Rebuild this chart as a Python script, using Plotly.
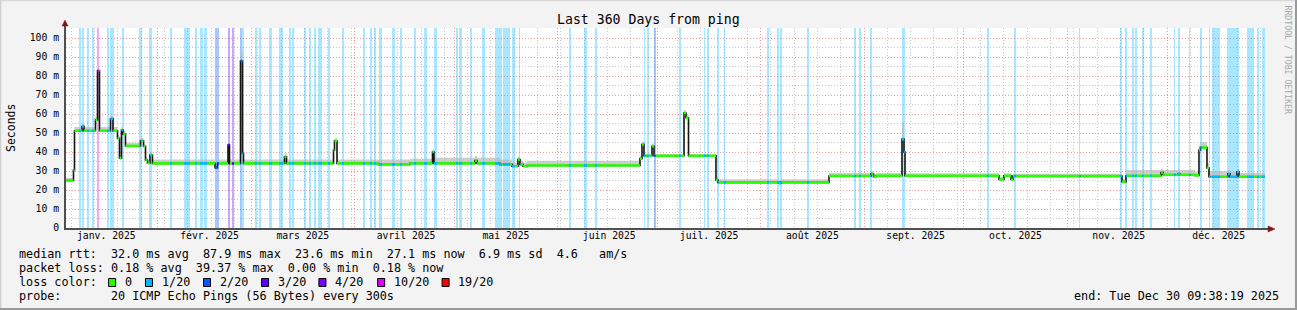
import numpy as np
import pandas as pd
import plotly.graph_objects as go

# ---------------- data ----------------
period_start = "2025-01-04 09:38:19"
period_end = "2025-12-30 09:38:19"
end_day = 363.40  # days since 2025-01-01 00:00

# median RTT step breakpoints (days since 2025-01-01 00:00) and values (ms)
median_day = [3.40, 5.65, 5.95, 8.20, 8.80, 12.26, 12.86, 13.46, 16.76, 17.51,
              18.86, 19.46, 20.06, 20.51, 21.26, 25.77, 26.67, 27.27, 27.87, 28.62,
              29.37, 48.14, 48.89, 52.04, 52.49, 55.79, 56.39, 56.69, 69.00, 69.61,
              83.72, 84.02, 84.77, 97.08, 106.69, 113.44, 113.89, 126.20, 126.80, 133.71,
              137.31, 139.11, 139.71, 140.61, 141.82, 175.74, 176.34, 176.94, 179.35, 179.95,
              188.96, 189.56, 190.31, 198.56, 199.16, 217.48, 218.08, 232.49, 245.10, 245.85,
              246.60, 254.41, 255.01, 255.31, 283.53, 285.03, 287.14, 287.74, 320.46, 321.67,
              332.18, 332.78, 337.28, 337.88, 342.38, 343.58, 344.03, 345.98, 346.58, 352.28,
              352.88, 354.98, 355.58]
median_ms = [25.0, 30.5, 51.2, 53.5, 51.2, 57.0, 82.8, 51.2, 57.5, 51.2,
             47.2, 36.8, 51.6, 49.5, 43.2, 45.9, 43.0, 35.8, 34.2, 38.4,
             34.0, 31.8, 34.0, 43.7, 34.0, 87.9, 39.4, 34.0, 37.5, 34.0,
             41.0, 45.8, 34.0, 33.5, 34.0, 40.0, 34.0, 35.5, 34.0, 33.5,
             32.5, 36.0, 33.5, 32.5, 32.9, 36.5, 44.0, 38.0, 43.0, 38.0,
             60.5, 58.0, 38.0, 25.3, 24.0, 23.6, 24.0, 27.4, 28.5, 27.0,
             27.5, 46.8, 40.0, 27.5, 25.5, 27.5, 25.5, 27.3, 24.4, 27.5,
             29.2, 28.0, 28.5, 28.0, 27.7, 41.0, 42.3, 31.6, 27.0, 28.5,
             27.0, 29.5, 27.0]
# spread of the ping "smoke" above the median (ms)
smoke_ms = [1.5, 0.5, 2.0, 1.5, 2.0, 1.5, 1.5, 2.0, 1.5, 2.0,
            1.5, 1.5, 1.5, 1.5, 1.7, 1.5, 1.5, 1.5, 1.5, 1.5,
            2.0, 2.0, 2.0, 1.5, 2.0, 5.0, 3.0, 2.0, 2.0, 2.0,
            1.5, 1.5, 2.0, 2.5, 2.5, 1.5, 3.0, 2.5, 3.0, 2.5,
            2.0, 1.5, 2.0, 2.0, 2.5, 1.5, 1.5, 1.0, 1.5, 1.0,
            1.5, 1.5, 1.0, 1.5, 1.7, 1.5, 1.7, 1.5, 1.5, 1.5,
            1.5, 9.0, 3.0, 1.3, 1.3, 1.3, 1.3, 1.3, 1.5, 3.0,
            2.0, 2.5, 2.0, 2.5, 2.0, 2.5, 3.0, 2.5, 3.0, 2.0,
            2.5, 1.5, 2.0]

# packet-loss periods (days since 2025-01-01) and lost pings out of 20
loss_start_day = [7.30, 8.20, 9.71, 11.21, 12.71, 15.71, 16.61, 20.21, 25.32, 28.32,
                  34.63, 38.83, 42.13, 43.63, 44.84, 48.14, 52.04, 53.24, 55.64, 56.24,
                  60.15, 61.35, 64.35, 67.35, 70.36, 71.26, 74.86, 76.36, 77.86, 79.06,
                  82.07, 86.27, 92.58, 94.68, 95.88, 97.38, 101.28, 103.68, 107.89, 110.89,
                  113.89, 120.50, 121.40, 124.70, 128.31, 132.21, 134.61, 137.31, 139.41, 154.42,
                  158.93, 162.23, 176.94, 177.84, 179.95, 187.45, 194.95, 195.86, 198.86, 200.96,
                  213.88, 216.88, 217.78, 225.89, 240.00, 241.50, 244.80, 254.41, 279.93, 288.04,
                  307.55, 319.86, 321.36, 323.46, 324.36, 326.47, 328.87, 336.07, 337.28, 340.58,
                  343.88, 346.58, 347.48, 351.98, 357.98, 360.99, 362.49]
loss_end_day = [7.90, 8.80, 10.31, 11.81, 13.31, 16.31, 17.81, 20.81, 26.22, 29.22,
                35.23, 40.64, 42.74, 44.54, 45.74, 49.34, 52.64, 53.84, 56.24, 56.84,
                60.75, 61.95, 65.26, 68.56, 70.96, 71.86, 75.46, 76.96, 78.46, 80.27,
                82.52, 86.87, 93.18, 95.28, 96.48, 98.28, 102.18, 104.28, 108.34, 111.79,
                114.79, 121.10, 122.30, 125.30, 129.21, 134.31, 136.71, 138.21, 139.86, 155.02,
                159.83, 162.83, 177.39, 178.44, 180.40, 188.05, 195.40, 196.46, 199.46, 201.41,
                214.48, 217.48, 218.38, 226.49, 240.45, 241.95, 245.40, 255.31, 280.53, 288.49,
                308.00, 320.46, 321.97, 324.06, 324.97, 327.07, 329.47, 336.52, 337.88, 341.03,
                344.48, 347.03, 349.88, 355.58, 360.09, 361.59, 363.40]
loss_level = [1, 1, 1, 1, 10, 1, 1, 1, 1, 1,
              1, 1, 1, 1, 1, 2, 3, 3, 2, 1,
              1, 1, 1, 1, 1, 1, 1, 1, 1, 1,
              1, 1, 1, 1, 1, 1, 1, 1, 1, 1,
              1, 1, 1, 1, 1, 1, 1, 1, 1, 1,
              1, 1, 1, 1, 2, 1, 1, 1, 1, 1,
              1, 1, 1, 1, 1, 1, 1, 1, 1, 1,
              1, 1, 1, 1, 1, 1, 1, 1, 1, 1,
              1, 1, 1, 1, 1, 1, 1]

loss_levels = [0, 1, 2, 3, 4, 10, 19]
loss_labels = ["0", "1/20", "2/20", "3/20", "4/20", "10/20", "19/20"]
loss_colors = ["#26ff00", "#00b8ff", "#0059ff", "#5e00ff", "#7e00ff", "#dd00ff", "#ff0000"]

month_labels = ["janv. 2025", "févr. 2025", "mars 2025", "avril 2025", "mai 2025",
                "juin 2025", "juil. 2025", "août 2025", "sept. 2025", "oct. 2025",
                "nov. 2025", "déc. 2025"]
y_tick_vals = [0, 10, 20, 30, 40, 50, 60, 70, 80, 90, 100]
y_tick_text = ["0", "10 m", "20 m", "30 m", "40 m", "50 m", "60 m", "70 m", "80 m", "90 m", "100 m"]

title_text = "Last 360 Days from ping"
y_title = "Seconds"
watermark = "RRDTOOL / TOBI OETIKER"
stats_rtt = ["median rtt:", "32.0 ms avg", "87.9 ms max", "23.6 ms min", "27.1 ms now", "6.9 ms sd", "4.6", "am/s"]
stats_loss = ["packet loss:", "0.18 % avg", "39.37 % max", "0.00 % min", "0.18 % now"]
probe_text = "20 ICMP Echo Pings (56 Bytes) every 300s"
end_text = "end: Tue Dec 30 09:38:19 2025"

# ---------------- helpers ----------------
BASE = pd.Timestamp("2025-01-01")


def to_date(d):
    return BASE + pd.to_timedelta(d, unit="D")


W, H = 1297, 310
L, R, T, B = 66, 32, 28, 82
PW, PH = W - L - R, H - T - B
MONO = "DejaVu Sans Mono"


def px(x):
    return (x - L) / PW


def py(y):
    return (H - B - y) / PH


YMAX = 100 * PH / 190.0

fig = go.Figure()

# loss stripes
for lvl, col in zip(loss_levels, loss_colors):
    if lvl == 0:
        continue
    idx = [i for i, l in enumerate(loss_level) if l == lvl]
    if not idx:
        continue
    r, g, b = int(col[1:3], 16), int(col[3:5], 16), int(col[5:7], 16)
    mids = [to_date((loss_start_day[i] + loss_end_day[i]) / 2) for i in idx]
    widths = [(loss_end_day[i] - loss_start_day[i]) * 86400000 for i in idx]
    fig.add_trace(go.Bar(x=mids, y=[YMAX + 5] * len(idx), width=widths, base=0,
                         marker=dict(color=f"rgba({r},{g},{b},0.34)", line=dict(width=0)),
                         hoverinfo="skip", showlegend=False))

# smoke
step_x = [to_date(d) for d in median_day] + [to_date(end_day)]
low = [m - 0.3 for m in median_ms] + [median_ms[-1] - 0.3]
high = [m + s for m, s in zip(median_ms, smoke_ms)] + [median_ms[-1] + smoke_ms[-1]]
fig.add_trace(go.Scatter(x=step_x, y=low, mode="lines", line=dict(width=0, shape="hv"),
                         hoverinfo="skip", showlegend=False))
fig.add_trace(go.Scatter(x=step_x, y=high, mode="lines", line=dict(width=0, shape="hv"),
                         fill="tonexty", fillcolor="rgba(185,185,185,0.7)",
                         hoverinfo="skip", showlegend=False))

# black median step line
fig.add_trace(go.Scatter(x=step_x, y=list(median_ms) + [median_ms[-1]], mode="lines",
                         line=dict(color="#151515", width=1.6, shape="hv"),
                         hoverinfo="skip", showlegend=False))

# coloured median segments by loss
bounds = sorted(set([d for d in median_day] + loss_start_day + loss_end_day + [end_day]))
bounds = [b for b in bounds if median_day[0] <= b <= end_day]
segs = {l: ([], []) for l in loss_levels}
for a, b in zip(bounds[:-1], bounds[1:]):
    mid = (a + b) / 2
    i = int(np.searchsorted(median_day, mid, side="right")) - 1
    v = median_ms[i]
    lvl = 0
    for s, e, l in zip(loss_start_day, loss_end_day, loss_level):
        if s <= mid < e:
            lvl = l
    xs, ys = segs[lvl]
    xs += [to_date(a), to_date(b), None]
    ys += [v, v, None]
for lvl, col in zip(loss_levels, loss_colors):
    xs, ys = segs[lvl]
    if xs:
        fig.add_trace(go.Scatter(x=xs, y=ys, mode="lines", line=dict(color=col, width=2.6),
                                 hoverinfo="skip", showlegend=False, connectgaps=False))

# invisible anchor traces for the overlay axes (monthly grid, month labels)
for ax in ["x2", "x3"]:
    fig.add_trace(go.Scatter(x=[period_start], y=[0], xaxis=ax, mode="markers",
                             marker=dict(opacity=0), hoverinfo="skip", showlegend=False))

month_mid = [pd.Timestamp(2025, m, 1) + pd.Timedelta(days=15.5) for m in range(1, 13)]
month_starts = [pd.Timestamp(2025, m, 1) for m in range(2, 13)]
mondays = list(pd.date_range("2025-01-06", "2025-12-29", freq="7D"))
mondays = [d for d in mondays if d.day != 1]

grid_red = "rgba(235,140,140,0.85)"
grid_gray = "rgba(195,195,195,0.9)"
dash = "1px,2px"
xr = [period_start, period_end]

fig.update_layout(
    width=W, height=H, autosize=False,
    margin=dict(l=L, r=R, t=T, b=B, pad=0),
    paper_bgcolor="#f3f3f3", plot_bgcolor="#ffffff",
    barmode="overlay", bargap=0, showlegend=False,
    font=dict(family=MONO, size=10, color="#000"),
    xaxis=dict(type="date", range=xr, tickmode="array", tickvals=mondays,
               showticklabels=False, ticks="",
               showgrid=True, gridcolor=grid_gray, griddash=dash, gridwidth=1,
               showline=True, linecolor="#505050", linewidth=2, zeroline=False,
               fixedrange=True),
    xaxis2=dict(type="date", overlaying="x", anchor="y", side="bottom", range=xr,
                tickmode="array", tickvals=month_starts, showticklabels=False, ticks="",
                showgrid=True, gridcolor=grid_red, griddash=dash, gridwidth=1,
                showline=False, zeroline=False, fixedrange=True),
    xaxis3=dict(type="date", overlaying="x", anchor="y", side="bottom", range=xr,
                tickmode="array", tickvals=month_mid, ticktext=month_labels,
                showgrid=False, showline=False, ticks="", zeroline=False,
                tickfont=dict(family=MONO, size=9.75, color="#000"), fixedrange=True),
    yaxis=dict(range=[0, YMAX], tickmode="array", tickvals=y_tick_vals,
               ticktext=y_tick_text, showgrid=True, gridcolor=grid_red,
               griddash=dash, gridwidth=1,
               minor=dict(tickmode="linear", tick0=5, dtick=10, showgrid=True,
                          gridcolor=grid_gray, griddash=dash, gridwidth=1, ticks=""),
               ticks="outside", ticklen=3, tickcolor="#f3f3f3",
               showline=True, linecolor="#505050", linewidth=2, zeroline=False,
               tickfont=dict(family=MONO, size=9.75, color="#000"),
               fixedrange=True),
)

ann = []


def add_text(x, y, text, size, xanchor="left", color="#000", angle=0):
    ann.append(dict(xref="paper", yref="paper", x=px(x), y=py(y), text=text,
                    showarrow=False, xanchor=xanchor, yanchor="middle", textangle=angle,
                    font=dict(family=MONO, size=size, color=color)))


add_text(648.5, 19, title_text, 13.2, "center")
add_text(1287.5, 60, watermark, 8.2, "center", "#a8a8a8", 90)
add_text(11, 128, y_title, 11.5, "center", "#000", -90)


def cols(parts, positions):
    s = ""
    for p, c in zip(parts, positions):
        s = s.ljust(c) + p
    return s.replace(" ", "\u00a0")


LX = 16.6
CW = 7.08
LS = 11.75
line1 = cols(stats_rtt, [0, 13, 26, 39, 52, 65, 76, 82])
line2 = cols(stats_loss, [0, 13, 25, 38, 50])
line4 = cols(["probe:", probe_text], [0, 13])
for txt, yy in [(line1, 254), (line2, 268), ("loss\u00a0color:", 282), (line4, 296)]:
    add_text(LX, yy, txt, LS)
add_text(1281, 296, end_text.replace(" ", "\u00a0"), LS, "right")

box_cols = [13, 18.2, 26.4, 34.6, 42.7, 51.0, 60.1]
shapes = []
for c, lab, col in zip(box_cols, loss_labels, loss_colors):
    bx = LX + c * CW
    shapes.append(dict(type="rect", xref="paper", yref="paper",
                       x0=px(bx), x1=px(bx + 7), y0=py(286.5), y1=py(278.5),
                       fillcolor=col, line=dict(color="#000", width=1)))
    add_text(bx + 14.2, 282, lab, LS)

# frame
shapes += [
    dict(type="line", xref="paper", yref="paper", x0=px(0), x1=px(W), y0=py(0.5), y1=py(0.5),
         line=dict(color="#d8d8d8", width=1.5)),
    dict(type="line", xref="paper", yref="paper", x0=px(0.5), x1=px(0.5), y0=py(0), y1=py(H),
         line=dict(color="#cfcfcf", width=1.5)),
    dict(type="line", xref="paper", yref="paper", x0=px(0), x1=px(W), y0=py(H - 1), y1=py(H - 1),
         line=dict(color="#9a9a9a", width=2)),
    dict(type="line", xref="paper", yref="paper", x0=px(W - 1), x1=px(W - 1), y0=py(0), y1=py(H),
         line=dict(color="#9a9a9a", width=2)),
]
# axis extensions and arrows
ARROW = "#801a1a"
shapes += [
    dict(type="line", xref="paper", yref="paper", x0=px(65), x1=px(65), y0=py(28), y1=py(24),
         line=dict(color="#505050", width=2)),
    dict(type="line", xref="paper", yref="paper", x0=px(1265), x1=px(1270), y0=py(229), y1=py(229),
         line=dict(color="#505050", width=2)),
    dict(type="path", xref="paper", yref="paper",
         path=f"M {px(62)} {py(26)} L {px(68)} {py(26)} L {px(65)} {py(20)} Z",
         fillcolor=ARROW, line=dict(color=ARROW, width=0.5)),
    dict(type="path", xref="paper", yref="paper",
         path=f"M {px(1268)} {py(226)} L {px(1268)} {py(232)} L {px(1275)} {py(229)} Z",
         fillcolor=ARROW, line=dict(color=ARROW, width=0.5)),
]

fig.update_layout(annotations=ann, shapes=shapes)
fig.write_html("out.html", config={"displayModeBar": False, "staticPlot": True})
